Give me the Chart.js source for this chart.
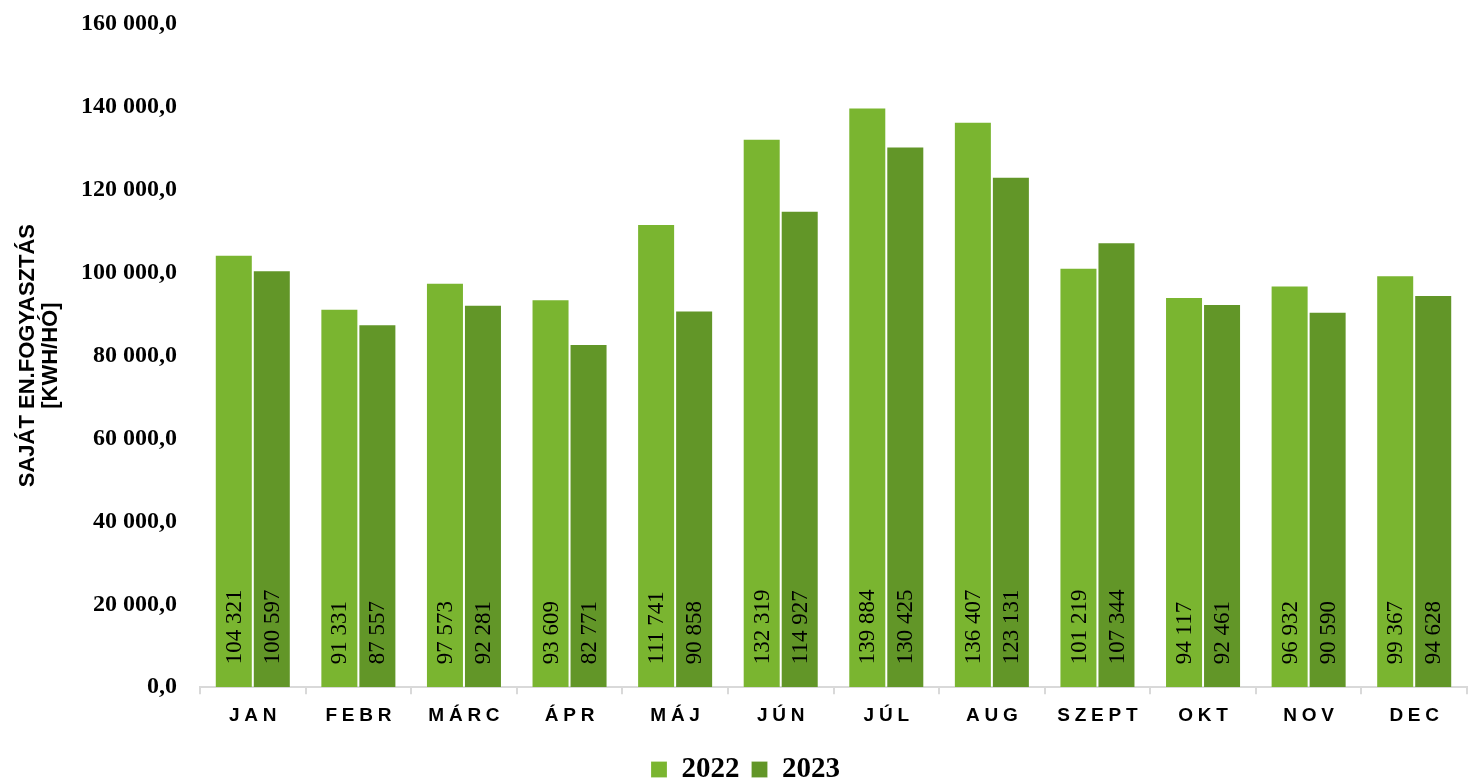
<!DOCTYPE html>
<html>
<head>
<meta charset="utf-8">
<script src="https://cdn.jsdelivr.net/npm/chart.js@4"></script>
<style>
    html, body { margin: 0; padding: 0; background: #ffffff; }
    #wrap { width: 1472px; height: 780px; position: relative; }
</style>
</head>
<body>
<div id="wrap"><canvas id="chart"></canvas></div>
<script>
const months = ["JAN", "FEBR", "MÁRC", "ÁPR", "MÁJ", "JÚN", "JÚL", "AUG", "SZEPT", "OKT", "NOV", "DEC"];
const values2022 = [104321, 91331, 97573, 93609, 111741, 132319, 139884, 136407, 101219, 94117, 96932, 99367];
const values2023 = [100597, 87557, 92281, 82771, 90858, 114927, 130425, 123131, 107344, 92461, 90590, 94628];
const seriesNames = ["2022", "2023"];
const yTitle = ["SAJÁT EN.FOGYASZTÁS", "[KWH/HÓ]"];
const yMax = 160000;
const yStep = 20000;

function groupThousands(n){
    return String(n).replace(/\B(?=(\d{3})+(?!\d))/g, " ");
}

function spaced(label){
    return label.split("").join("\u2005");
}

const barLabels = {
    id: "barLabels",
    afterDatasetsDraw(chart){
        const ctx = chart.ctx;
        ctx.save();
        ctx.font = "23px 'Liberation Serif', serif";
        ctx.fillStyle = "#000000";
        ctx.textAlign = "left";
        ctx.textBaseline = "middle";
        chart.data.datasets.forEach((ds, i) => {
            const meta = chart.getDatasetMeta(i);
            meta.data.forEach((bar, j) => {
                ctx.save();
                ctx.translate(bar.x, bar.base - 23);
                ctx.rotate(-Math.PI / 2);
                ctx.fillText(groupThousands(ds.data[j]), 0, 1);
                ctx.restore();
            });
        });
        ctx.restore();
    }
};

new Chart(document.getElementById("chart"), {
    type: "bar",
    data: {
        labels: months.map(spaced),
        datasets: [
            {
                label: seriesNames[0],
                data: values2022,
                backgroundColor: "#7ab530",
                borderColor: "rgba(255,255,255,0.2)",
                borderWidth: 1
            },
            {
                label: seriesNames[1],
                data: values2023,
                backgroundColor: "#629628",
                borderColor: "rgba(255,255,255,0.18)",
                borderWidth: 1
            }
        ]
    },
    options: {
        responsive: true,
        maintainAspectRatio: false,
        animation: false,
        layout: { padding: { top: 24, right: 5, left: 24, bottom: -14 } },
        datasets: { bar: { categoryPercentage: 0.72, barPercentage: 1.0 } },
        plugins: {
            legend: {
                position: "bottom",
                labels: {
                    boxWidth: 16,
                    boxHeight: 16,
                    padding: 12,
                    color: "#000000",
                    font: { family: "'Liberation Serif', serif", size: 29, weight: "bold" }
                }
            },
            tooltip: { enabled: false }
        },
        scales: {
            x: {
                afterFit(scale){ scale.height += 6; },
                grid: { display: true, drawOnChartArea: false, color: "#d9d9d9", lineWidth: 2, tickLength: 7 },
                border: { color: "#d9d9d9", width: 2 },
                ticks: {
                    color: "#000000",
                    padding: 10,
                    font: { family: "'Liberation Sans', sans-serif", size: 19, weight: "bold" }
                }
            },
            y: {
                min: 0,
                max: yMax,
                afterFit(scale){
                    scale.width = 176;
                    scale.paddingTop = 0;
                    scale.paddingBottom = 0;
                },
                grid: { display: false, drawTicks: false },
                border: { display: false },
                ticks: {
                    stepSize: yStep,
                    padding: 23,
                    color: "#000000",
                    font: { family: "'Liberation Serif', serif", size: 24, weight: "bold" },
                    callback: (v) => groupThousands(v) + ",0"
                },
                title: {
                    display: true,
                    text: yTitle,
                    color: "#000000",
                    padding: { top: -8, bottom: 0 },
                    font: { family: "'Liberation Sans', sans-serif", size: 22, weight: "bold", lineHeight: 1.05 }
                }
            }
        }
    },
    plugins: [barLabels]
});
</script>
</body>
</html>
